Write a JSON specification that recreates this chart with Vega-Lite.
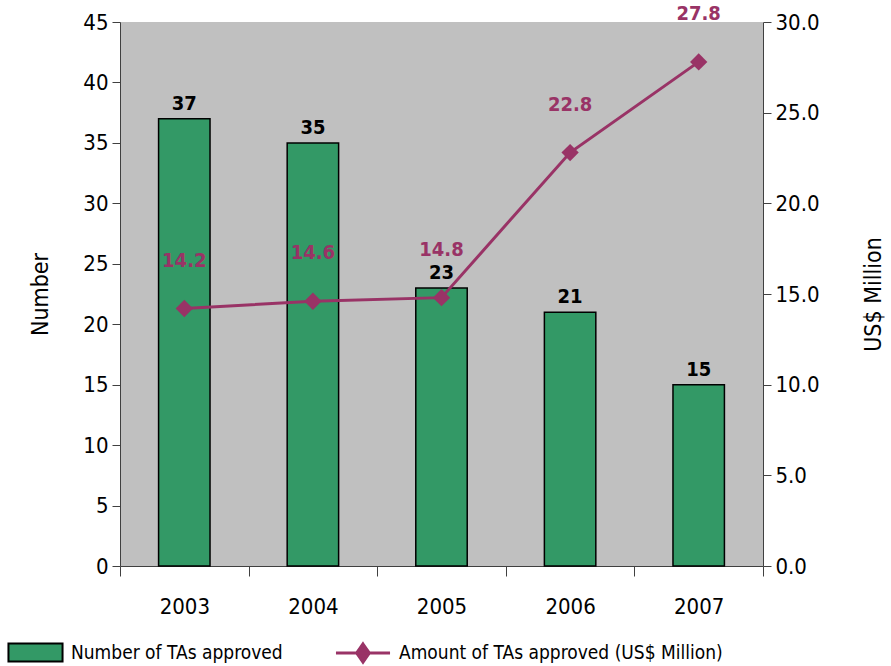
{
  "$schema": "https://vega.github.io/schema/vega-lite/v6.json",
  "autosize": "none",
  "width": 643,
  "height": 544,
  "padding": {"left": 120, "top": 22, "right": 128, "bottom": 100},
  "background": "white",
  "config": {
    "font": "DejaVu Sans Condensed",
    "view": {"fill": "#C0C0C0", "stroke": null},
    "axis": {"labelFont": "DejaVu Sans Condensed", "titleFont": "DejaVu Sans Condensed", "labelColor": "#000000", "titleColor": "#000000", "domainColor": "#404040", "tickColor": "#404040", "grid": false}
  },
  "data": {
    "values": [
      {"year": "2003", "count": 37, "amount": 14.2},
      {"year": "2004", "count": 35, "amount": 14.6},
      {"year": "2005", "count": 23, "amount": 14.8},
      {"year": "2006", "count": 21, "amount": 22.8},
      {"year": "2007", "count": 15, "amount": 27.8}
    ]
  },
  "encoding": {
    "x": {
      "field": "year", "type": "nominal",
      "scale": {"paddingInner": 0, "paddingOuter": 0},
      "axis": {"title": null, "labelAngle": 0, "labelFontSize": 22, "labelPadding": 20, "tickBand": "extent", "tickSize": 10, "domainColor": "#404040"}
    }
  },
  "layer": [
    {
      "encoding": {
        "y": {"field": "count", "type": "quantitative", "scale": {"domain": [0, 45]},
          "axis": {"title": "Number", "titleFontSize": 23, "titleFontWeight": "normal", "titlePadding": 30, "labelFontSize": 22, "tickSize": 8, "values": [0,5,10,15,20,25,30,35,40,45], "labelPadding": 4}}
      },
      "layer": [
        {
          "mark": {"type": "bar", "fill": "#339966", "stroke": "#000000", "strokeWidth": 1.5, "width": {"band": 0.4}},
          "encoding": {
            "fill": {"datum": "Number of TAs approved", "type": "nominal",
              "scale": {"range": ["#339966"]},
              "legend": {"title": null, "orient": "none", "legendX": -104, "legendY": 611, "labelFontSize": 19, "labelFont": "DejaVu Sans Condensed", "labelColor": "#000000", "labelLimit": 400,
                "symbolType": "M-1.5,-0.5H1.5V0.5H-1.5Z", "symbolSize": 1300, "symbolStrokeColor": "#000000", "symbolStrokeWidth": 2, "symbolOpacity": 1, "labelOffset": 16}}
          }
        },
        {
          "mark": {"type": "text", "fontSize": 20, "fontWeight": "bold", "baseline": "bottom", "dy": -5, "color": "#000000"},
          "encoding": {
            "text": {"field": "count", "type": "quantitative"}
          }
        }
      ]
    },
    {
      "encoding": {
        "y": {"field": "amount", "type": "quantitative", "scale": {"domain": [0, 30]},
          "axis": {"title": "US$ Million", "orient": "right", "format": ".1f", "titleAngle": 270, "titleFontSize": 23, "titleFontWeight": "normal", "titlePadding": 66, "labelFontSize": 22, "tickSize": 8, "values": [0,5,10,15,20,25,30], "labelPadding": 4}}
      },
      "layer": [
        {
          "mark": {"type": "line", "strokeWidth": 3},
          "encoding": {
            "stroke": {"datum": "Amount of TAs approved (US$ Million)", "type": "nominal",
              "scale": {"range": ["#993366"]},
              "legend": {"title": null, "orient": "none", "legendX": 223, "legendY": 611, "labelFontSize": 19, "labelFont": "DejaVu Sans Condensed", "labelColor": "#000000", "labelLimit": 400,
                "symbolType": "M-1.5,0H1.5M0,-0.5L0.35,0L0,0.5L-0.35,0Z", "symbolSize": 1300, "symbolStrokeWidth": 3, "symbolFillColor": "#993366", "labelOffset": 16,
                "encode": {"symbols": {"update": {"fill": {"value": "#993366"}, "stroke": {"value": "#993366"}}}}}}
          }
        },
        {
          "mark": {"type": "point", "shape": "diamond", "filled": true, "size": 300, "color": "#993366", "opacity": 1}
        },
        {
          "mark": {"type": "text", "fontSize": 20, "fontWeight": "bold", "baseline": "bottom", "dy": -38, "color": "#993366"},
          "encoding": {
            "text": {"field": "amount", "type": "quantitative", "format": ".1f"}
          }
        }
      ]
    }
  ],
  "resolve": {"scale": {"y": "independent"}}
}
